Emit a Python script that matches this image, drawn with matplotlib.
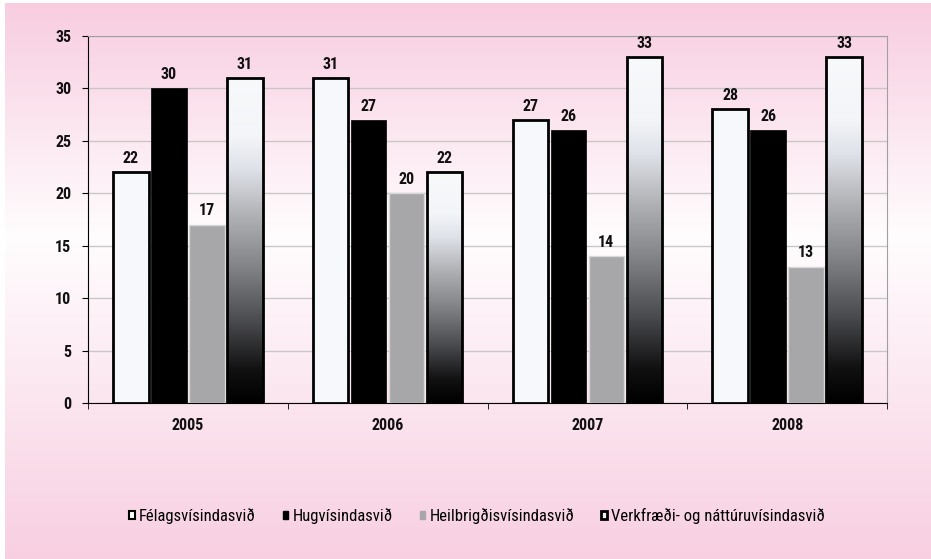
import numpy as np
import matplotlib
matplotlib.use('Agg')
import matplotlib.pyplot as plt
from matplotlib import font_manager
from matplotlib.colors import LinearSegmentedColormap
from matplotlib.patches import Patch

years = ['2005', '2006', '2007', '2008']
series_names = ['Félagsvísindasvið', 'Hugvísindasvið', 'Heilbrigðisvísindasvið',
                'Verkfræði- og náttúruvísindasvið']
felags = [22, 31, 27, 28]
hugvis = [30, 27, 26, 26]
heilbr = [17, 20, 14, 13]
verkfr = [31, 22, 33, 33]
y_ticks = [0, 5, 10, 15, 20, 25, 30, 35]

# narrow font if there is one, else fall back
installed = {f.name for f in font_manager.fontManager.ttflist}
font = 'DejaVu Sans'
for cand in ['Liberation Sans Narrow', 'DejaVu Sans Condensed', 'Roboto Condensed',
             'Open Sans Condensed', 'Roboto', 'Liberation Sans']:
    if cand in installed:
        font = cand
        break
plt.rcParams['font.family'] = [font, 'DejaVu Sans']

fig = plt.figure(figsize=(9.31, 5.59), dpi=100, facecolor='white')

# pink page background, whitish in the middle
bg = fig.add_axes([5 / 931, 0, 1 - 5 / 931, 1 - 3 / 559], zorder=-10)
bg_cmap = LinearSegmentedColormap.from_list(
    'bg', [(0.0, '#f8cde0'), (0.42, '#fffdfe'), (1.0, '#f8cfe1')])
bg.imshow(np.linspace(0, 1, 256).reshape(-1, 1), aspect='auto', cmap=bg_cmap,
          extent=(0, 1, 0, 1), origin='upper')
bg.set_axis_off()

ax = fig.add_axes([88 / 931, 156 / 559, 799 / 931, 367 / 559])
ax.patch.set_alpha(0)

x = np.arange(len(years))
w = 0.178
step = 0.19
offsets = [-1.5 * step, -0.5 * step, 0.5 * step, 1.5 * step]

ax.bar(x + offsets[0], felags, w, color='#f7f8fc', edgecolor='black', linewidth=2, zorder=3)
ax.bar(x + offsets[1], hugvis, w, color='black', edgecolor='black', linewidth=0.5, zorder=3)
ax.bar(x + offsets[2], heilbr, w, color='#a7a7aa', edgecolor='#d8d8d8', linewidth=1, zorder=3)

# gradient bars, white top to black bottom
grad_cmap = LinearSegmentedColormap.from_list(
    'grad', [(0.0, '#000000'), (0.1, '#111112'), (0.25, '#4a4b4f'), (0.42, '#838488'),
             (0.58, '#b2b3b7'), (0.72, '#dfe2e9'), (0.82, '#f3f5f8'), (1.0, '#f8f9fb')])
grad = np.linspace(0, 1, 256).reshape(-1, 1)
bars4 = ax.bar(x + offsets[3], verkfr, w, facecolor='none', edgecolor='black', linewidth=2, zorder=4)
for b, v in zip(bars4, verkfr):
    x0 = b.get_x()
    ax.imshow(grad, aspect='auto', cmap=grad_cmap, origin='lower',
              extent=(x0, x0 + w, 0, v), zorder=3)

for vals, off in zip([felags, hugvis, heilbr, verkfr], offsets):
    for xi, v in zip(x, vals):
        ax.text(xi + off, v + 0.6, str(v), ha='center', va='bottom',
                fontsize=11.5, fontweight='bold', color='#111111')

ax.set_xlim(-0.5, len(years) - 0.5)
ax.set_ylim(0, 35)
ax.set_yticks(y_ticks)
ax.set_xticks(x)
ax.set_xticklabels(years)
ax.set_xticks(np.arange(len(years) + 1) - 0.5, minor=True)
ax.tick_params(axis='x', which='major', length=0, pad=11, labelsize=11.5)
ax.tick_params(axis='x', which='minor', length=4, direction='out', color='black')
ax.tick_params(axis='y', length=4, direction='out', pad=8, labelsize=11.5)
for lab in ax.get_xticklabels() + ax.get_yticklabels():
    lab.set_fontweight('bold')
    lab.set_color('#111111')

ax.grid(axis='y', color='#c8c8c8', linewidth=1, zorder=0)
ax.set_axisbelow(True)
ax.spines['left'].set_color('black')
ax.spines['bottom'].set_color('black')
ax.spines['top'].set_color('#a0a0a0')
ax.spines['right'].set_color('#a0a0a0')

handles = [
    Patch(facecolor='white', edgecolor='black', linewidth=1.5),
    Patch(facecolor='black', edgecolor='black'),
    Patch(facecolor='#a7a7aa', edgecolor='#a7a7aa'),
    Patch(facecolor='#f0f0f0', edgecolor='black', linewidth=2),
]
fig.legend(handles, series_names, loc='center', bbox_to_anchor=(477 / 931, 1 - 516 / 559),
           ncol=4, frameon=False, handlelength=0.35, handleheight=0.35, handletextpad=0.25,
           columnspacing=1.6, prop={'size': 12})

fig.savefig('out.png', dpi=100, facecolor=fig.get_facecolor())
